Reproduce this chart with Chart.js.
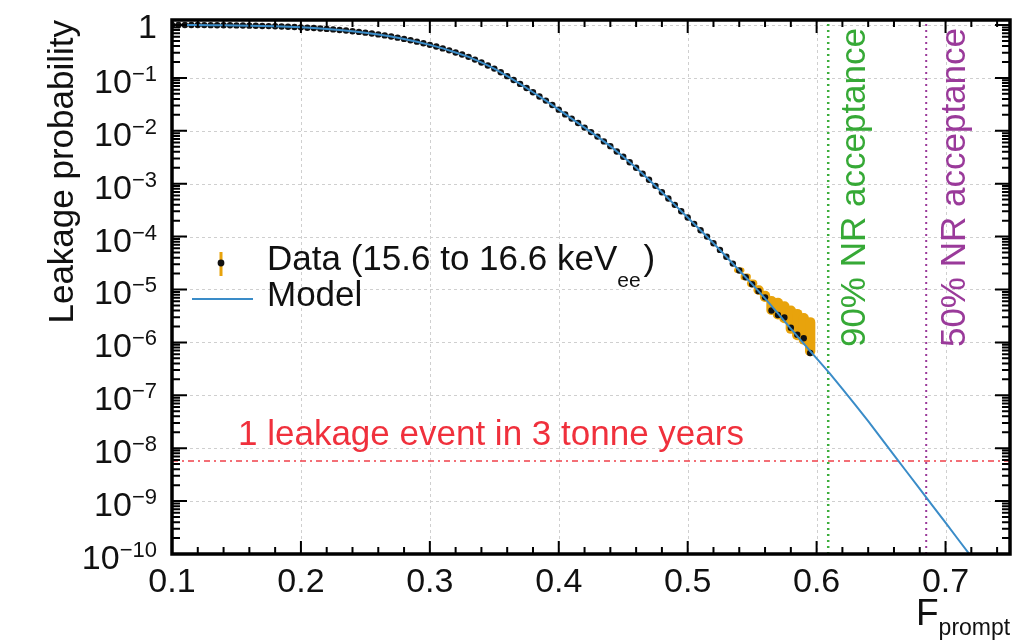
<!DOCTYPE html>
<html>
<head>
<meta charset="utf-8">
<script src="https://cdn.jsdelivr.net/npm/chart.js@4.4.1/dist/chart.umd.min.js"></script>
<style>
  html, body { margin: 0; padding: 0; background: #fff; }
  canvas { display: block; }
</style>
</head>
<body>
<canvas id="leakChart" width="1024" height="642"></canvas>
<script>
// Model curve (F_prompt -> leakage probability)
const modelF = [0.10, 0.11, 0.12, 0.13, 0.14, 0.15, 0.16, 0.17, 0.18, 0.19,
                0.20, 0.21, 0.22, 0.23, 0.24, 0.25, 0.26, 0.27, 0.28, 0.29,
                0.30, 0.31, 0.32, 0.33, 0.34, 0.35, 0.36, 0.37, 0.38, 0.39,
                0.40, 0.41, 0.42, 0.43, 0.44, 0.45, 0.46, 0.47, 0.48, 0.49,
                0.50, 0.51, 0.52, 0.53, 0.54, 0.55, 0.56, 0.57, 0.58, 0.59,
                0.60, 0.61, 0.62, 0.63, 0.64, 0.65, 0.66, 0.67, 0.68, 0.69,
                0.70, 0.71, 0.72];
const modelP = [1.0, 1.0, 0.997, 0.994, 0.989, 0.982, 0.973, 0.960, 0.944, 0.925,
                0.902, 0.875, 0.843, 0.806, 0.764, 0.717, 0.664, 0.607, 0.546, 0.484,
                0.421, 0.361, 0.303, 0.250, 0.196, 0.150, 0.108, 0.0770, 0.0535, 0.0372,
                0.0251, 0.0170, 0.0115, 0.00776, 0.00513, 0.00324, 0.00200, 0.00119, 6.9e-4, 3.98e-4,
                2.29e-4, 1.32e-4, 7.5e-5, 4.17e-5, 2.29e-5, 1.26e-5, 6.8e-6, 3.55e-6, 1.82e-6, 9.5e-7,
                5.0e-7, 2.63e-7, 1.32e-7, 6.6e-8, 3.24e-8, 1.55e-8, 7.4e-9, 3.55e-9, 1.70e-9, 8.1e-10,
                3.9e-10, 1.86e-10, 8.9e-11];

// Data (15.6 to 16.6 keVee)
const dataF = [0.100, 0.105, 0.110, 0.115, 0.120, 0.125, 0.130, 0.135, 0.140, 0.145,
               0.150, 0.155, 0.160, 0.165, 0.170, 0.175, 0.180, 0.185, 0.190, 0.195,
               0.200, 0.205, 0.210, 0.215, 0.220, 0.225, 0.230, 0.235, 0.240, 0.245,
               0.250, 0.255, 0.260, 0.265, 0.270, 0.275, 0.280, 0.285, 0.290, 0.295,
               0.300, 0.305, 0.310, 0.315, 0.320, 0.325, 0.330, 0.335, 0.340, 0.345,
               0.350, 0.355, 0.360, 0.365, 0.370, 0.375, 0.380, 0.385, 0.390, 0.395,
               0.400, 0.405, 0.410, 0.415, 0.420, 0.425, 0.430, 0.435, 0.440, 0.445,
               0.450, 0.455, 0.460, 0.465, 0.470, 0.475, 0.480, 0.485, 0.490, 0.495,
               0.500, 0.505, 0.510, 0.515, 0.520, 0.525, 0.530, 0.535, 0.540, 0.545,
               0.550, 0.555, 0.560, 0.565, 0.570, 0.575, 0.580, 0.585, 0.590, 0.595];
const dataP = [1.0, 1.0, 1.0, 0.998, 0.997, 0.996, 0.994, 0.992, 0.989, 0.986,
               0.982, 0.978, 0.973, 0.967, 0.960, 0.953, 0.944, 0.935, 0.925, 0.914,
               0.902, 0.889, 0.875, 0.860, 0.843, 0.825, 0.806, 0.786, 0.764, 0.741,
               0.717, 0.691, 0.664, 0.636, 0.607, 0.577, 0.546, 0.515, 0.484, 0.453,
               0.421, 0.391, 0.361, 0.332, 0.303, 0.276, 0.250, 0.222, 0.196, 0.172,
               0.150, 0.128, 0.108, 0.0915, 0.0770, 0.0645, 0.0535, 0.0445, 0.0372, 0.0307,
               0.0251, 0.0204, 0.0170, 0.0140, 0.0115, 0.00944, 0.00776, 0.00631, 0.00513, 0.00407,
               0.00324, 0.00254, 0.00200, 0.00155, 0.00119, 9.1e-4, 6.9e-4, 5.25e-4, 3.98e-4, 3.02e-4,
               2.29e-4, 1.74e-4, 1.32e-4, 1.0e-4, 7.5e-5, 5.6e-5, 4.17e-5, 3.09e-5, 2.29e-5, 1.70e-5,
               1.26e-5, 9.3e-6, 7.1e-6, 4.0e-6, 3.3e-6, 2.95e-6, 1.9e-6, 1.4e-6, 1.2e-6, 6.3e-7];

// error band where it is visible (last points)
const errF  = [0.540, 0.545, 0.550, 0.555, 0.560, 0.565, 0.570, 0.575, 0.580, 0.585, 0.590, 0.595];
const errLo = [2.05e-5, 1.5e-5, 1.1e-5, 8.0e-6, 5.8e-6, 3.3e-6, 2.7e-6, 2.3e-6, 1.45e-6, 1.1e-6, 9.0e-7, 5.5e-7];
const errHi = [2.6e-5, 2.0e-5, 1.55e-5, 1.2e-5, 9.5e-6, 7.5e-6, 7.0e-6, 6.0e-6, 5.0e-6, 4.3e-6, 3.6e-6, 3.0e-6];

// acceptance lines and the leakage limit
const nr90F = 0.609;
const nr50F = 0.685;
const leakLimit = 5.7e-9;

// axes
const xMin = 0.1, xMax = 0.75;
const yMin = 1e-10, yMax = 1.243;
const xTicks = [0.1, 0.2, 0.3, 0.4, 0.5, 0.6, 0.7];
const xTickLabels = ['0.1', '0.2', '0.3', '0.4', '0.5', '0.6', '0.7'];
const yTickExp = [0, -1, -2, -3, -4, -5, -6, -7, -8, -9, -10];

const FONT = '"Liberation Sans", Arial, sans-serif';
const f = (size) => size + 'px ' + FONT;

const toXY = (xs, ys) => xs.map((x, i) => ({ x: x, y: ys[i] }));

// ROOT-like frame, ticks, labels and legend
const rootStyle = {
    id: 'rootStyle',
    beforeDatasetsDraw(chart) {
        const ctx = chart.ctx;
        const a = chart.chartArea;
        const xs = chart.scales.x, ys = chart.scales.y;
        ctx.save();
        // grid
        ctx.strokeStyle = '#cfcfcf';
        ctx.lineWidth = 1;
        ctx.setLineDash([3, 3]);
        xTicks.forEach(v => {
            const px = Math.round(xs.getPixelForValue(v)) + 0.5;
            if (px <= a.left + 2) return;
            ctx.beginPath(); ctx.moveTo(px, a.top); ctx.lineTo(px, a.bottom); ctx.stroke();
        });
        yTickExp.forEach(e => {
            const py = Math.round(ys.getPixelForValue(Math.pow(10, e))) + 0.5;
            if (py >= a.bottom - 2) return;
            ctx.beginPath(); ctx.moveTo(a.left, py); ctx.lineTo(a.right, py); ctx.stroke();
        });
        ctx.setLineDash([]);
        // error boxes (rounded, look like blurred ROOT boxes)
        ctx.fillStyle = '#e8a30c';
        errF.forEach((v, i) => {
            const x0 = xs.getPixelForValue(v - 0.004);
            const x1 = xs.getPixelForValue(v + 0.004);
            const y0 = ys.getPixelForValue(errHi[i]);
            const y1 = ys.getPixelForValue(errLo[i]);
            ctx.beginPath();
            ctx.roundRect(x0, y0, x1 - x0, y1 - y0, 5);
            ctx.fill();
        });
        ctx.restore();
    },
    afterDatasetsDraw(chart) {
        const ctx = chart.ctx;
        const a = chart.chartArea;
        const xs = chart.scales.x, ys = chart.scales.y;
        ctx.save();

        // ticks on all four sides
        ctx.strokeStyle = '#000';
        ctx.lineWidth = 2;
        ctx.beginPath();
        for (let k = 0; k <= 32; k++) {
            const v = xMin + k * 0.02;
            const px = xs.getPixelForValue(v);
            const len = (k % 5 === 0) ? 13 : 7;
            ctx.moveTo(px, a.bottom); ctx.lineTo(px, a.bottom - len);
            ctx.moveTo(px, a.top); ctx.lineTo(px, a.top + len);
        }
        for (let e = -10; e <= 0; e++) {
            for (let m = 1; m <= 9; m++) {
                const v = m * Math.pow(10, e);
                if (v < yMin || v > yMax) continue;
                const py = ys.getPixelForValue(v);
                const len = (m === 1) ? 15 : 8;
                ctx.moveTo(a.left, py); ctx.lineTo(a.left + len, py);
                ctx.moveTo(a.right, py); ctx.lineTo(a.right - len, py);
            }
        }
        ctx.stroke();

        // frame
        ctx.lineWidth = 3.5;
        ctx.strokeRect(a.left, a.top, a.right - a.left, a.bottom - a.top);

        // x tick labels
        ctx.fillStyle = '#111';
        ctx.font = f(34);
        ctx.textAlign = 'center';
        ctx.textBaseline = 'alphabetic';
        xTicks.forEach((v, i) => {
            ctx.fillText(xTickLabels[i], xs.getPixelForValue(v), 592);
        });

        // y tick labels 10^n
        const labRight = 157;
        yTickExp.forEach(e => {
            const py = ys.getPixelForValue(Math.pow(10, e));
            ctx.textAlign = 'right';
            if (e === 0) {
                ctx.font = f(34);
                ctx.fillText('1', labRight, py + 13);
                return;
            }
            const sup = '\u2212' + Math.abs(e);
            ctx.font = f(22);
            const w = ctx.measureText(sup).width;
            ctx.fillText(sup, labRight, py + 3);
            ctx.font = f(34);
            ctx.fillText('10', labRight - w, py + 15);
        });

        // x axis title F_prompt
        ctx.textAlign = 'left';
        ctx.font = f(37);
        ctx.fillText('F', 916, 625);
        const fw = ctx.measureText('F').width;
        ctx.font = f(23);
        ctx.fillText('prompt', 916 + fw, 635);

        // y axis title
        ctx.save();
        ctx.translate(73, 20);
        ctx.rotate(-Math.PI / 2);
        ctx.textAlign = 'right';
        ctx.font = f(35);
        ctx.fillText('Leakage probability', 0, 0);
        ctx.restore();

        // leakage limit text
        ctx.fillStyle = '#f0303c';
        ctx.font = f(35);
        ctx.textAlign = 'left';
        ctx.fillText('1 leakage event in 3 tonne years', 238, 445);

        // acceptance texts
        const vtext = (txt, x, color) => {
            ctx.save();
            ctx.translate(x, a.top + 8);
            ctx.rotate(-Math.PI / 2);
            ctx.textAlign = 'right';
            ctx.fillStyle = color;
            ctx.font = f(35);
            ctx.fillText(txt, 0, 0);
            ctx.restore();
        };
        vtext('90% NR acceptance', 865, '#36a936');
        vtext('50% NR acceptance', 965, '#9a3a9a');

        // legend
        ctx.fillStyle = '#e8a30c';
        ctx.fillRect(219.5, 252, 3, 24);
        ctx.fillStyle = '#111';
        ctx.beginPath(); ctx.arc(221, 263, 3.4, 0, Math.PI * 2); ctx.fill();
        ctx.strokeStyle = '#3a8cc8';
        ctx.lineWidth = 2;
        ctx.beginPath(); ctx.moveTo(192, 299); ctx.lineTo(253, 299); ctx.stroke();

        ctx.fillStyle = '#111';
        ctx.font = f(35);
        const t1 = 'Data (15.6 to 16.6 keV';
        ctx.fillText(t1, 267, 270);
        let lx = 267 + ctx.measureText(t1).width;
        ctx.font = f(21);
        ctx.fillText('ee', lx, 287);
        lx += ctx.measureText('ee').width + 3;
        ctx.font = f(35);
        ctx.fillText(')', lx, 270);
        ctx.fillText('Model', 267, 306);

        ctx.restore();
    }
};

new Chart(document.getElementById('leakChart').getContext('2d'), {
    type: 'scatter',
    data: {
        datasets: [
            {
                label: 'Model',
                data: toXY(modelF, modelP),
                showLine: true,
                borderColor: '#3a8cc8',
                borderWidth: 2,
                pointRadius: 0,
                tension: 0
            },
            {
                label: 'Data',
                data: toXY(dataF, dataP),
                showLine: false,
                pointRadius: 3.2,
                pointBorderWidth: 0,
                pointBackgroundColor: '#111',
                borderColor: '#111'
            },
            {
                label: '90% NR acceptance',
                data: toXY([nr90F, nr90F], [yMin, yMax]),
                showLine: true,
                borderColor: '#3cae3c',
                borderWidth: 2.5,
                borderDash: [2, 4],
                pointRadius: 0
            },
            {
                label: '50% NR acceptance',
                data: toXY([nr50F, nr50F], [yMin, yMax]),
                showLine: true,
                borderColor: '#9a3a9a',
                borderWidth: 2,
                borderDash: [2, 4],
                pointRadius: 0
            },
            {
                label: '1 leakage event in 3 tonne years',
                data: toXY([xMin, xMax], [leakLimit, leakLimit]),
                showLine: true,
                borderColor: '#f0404a',
                borderWidth: 1.5,
                borderDash: [6, 4, 2, 4],
                pointRadius: 0
            }
        ]
    },
    options: {
        responsive: false,
        animation: false,
        layout: { padding: { left: 172, right: 14, top: 20, bottom: 88 } },
        plugins: {
            legend: { display: false },
            tooltip: { enabled: false }
        },
        scales: {
            x: { type: 'linear', min: xMin, max: xMax, display: false },
            y: { type: 'logarithmic', min: yMin, max: yMax, display: false }
        }
    },
    plugins: [rootStyle]
});
</script>
</body>
</html>
